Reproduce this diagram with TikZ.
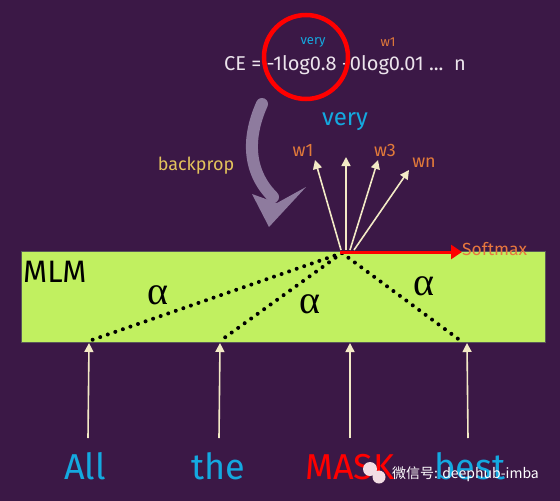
\documentclass[tikz,border=0pt]{standalone}
\usepackage{fontspec}
\setmainfont{Fira Sans}
\newfontfamily\cjk{Noto Sans CJK SC}
\newfontfamily\alphafont{Liberation Serif}
\usetikzlibrary{arrows.meta}
\definecolor{bg}{HTML}{3B1846}
\definecolor{mlmgreen}{HTML}{C1F060}
\definecolor{wordcyan}{HTML}{14A9E0}
\definecolor{worange}{HTML}{E27A3A}
\definecolor{cream}{HTML}{F3EAC6}
\definecolor{bpyellow}{HTML}{E3C35C}
\definecolor{grayarrow}{HTML}{8E7B9E}
\definecolor{formula}{HTML}{ECE4EC}
\definecolor{softorange}{HTML}{E8773E}
\definecolor{wmpink}{HTML}{F2DDE4}
\tikzset{
  fs/.style={font=\fontsize{#1}{#1}\selectfont},
  uparrow/.style={draw=cream, line width=1.6pt, -{Triangle[length=9pt,width=9pt]}},
  attn/.style={draw=black, line width=4pt, line cap=round, dash pattern=on 0pt off 8pt},
  word/.style={fs=36, inner sep=0pt, anchor=base},
  wlabel/.style={fs=18, text=worange, inner sep=0pt},
  alphalabel/.style={font=\alphafont\fontsize{40}{40}\selectfont, inner sep=0pt}
}
\begin{document}
\begin{tikzpicture}[x=1pt,y=-1pt]
\fill[bg] (0,0) rectangle (560,501);
\useasboundingbox (0,0) rectangle (560,501);

% MLM box
\node[draw=gray!70!black, line width=0.6pt, fill=mlmgreen, minimum width=524pt, minimum height=91pt, inner sep=0pt, anchor=north west] (mlm) at (21,251) {};
\node[fs=31, anchor=west, inner sep=0pt] (mlmlabel) at (23,272) {MLM};

% apex and token positions
\coordinate (apex) at (342,253);
\coordinate (tA) at (89,343);
\coordinate (tT) at (220,343);
\coordinate (tM) at (350,343);
\coordinate (tB) at (467,343);
\coordinate (dA) at (89,341);
\coordinate (dT) at (220,341);
\coordinate (dB) at (461,341);
\coordinate (sA) at (88,438);
\coordinate (sT) at (219,438);
\coordinate (sM) at (350,438);
\coordinate (sB) at (468,438);

% attention dotted lines
\draw[attn] (apex) -- (dA);
\draw[attn] (apex) -- (dT);
\draw[attn] (apex) -- (dB);
\node[alphalabel] (al1) at (158,295) {α};
\node[alphalabel] (al2) at (310,304) {α};
\node[alphalabel] (al3) at (424,286) {α};

% softmax arrow
\coordinate (smstart) at (340,252);
\coordinate (smend) at (462,252);
\draw[red, line width=3pt, -{Triangle[length=11pt,width=14pt]}] (smstart) -- (smend);
\node[fs=17.5, text=softorange, anchor=west, inner sep=0pt] (softmax) at (462,249) {Softmax};

% input arrows
\draw[uparrow] (sA) -- (tA);
\draw[uparrow] (sT) -- (tT);
\draw[uparrow] (sM) -- (tM);
\draw[uparrow] (sB) -- (tB);

% words
\node[word, text=wordcyan] (wAll) at (85,479) {All};
\node[word, text=wordcyan] (wThe) at (218,479) {the};
\node[word, text=red] (wMask) at (350,479) {MASK};
\node[word, text=wordcyan] (wBest) at (470,479) {best};

% output arrows
\coordinate (o1) at (341,250);
\coordinate (o2) at (346,250);
\coordinate (o3) at (350,250);
\coordinate (o4) at (354,250);
\coordinate (e1) at (315,160);
\coordinate (e2) at (346,157);
\coordinate (e3) at (378,160);
\coordinate (e4) at (409,170);
\draw[uparrow] (o1) -- (e1);
\draw[uparrow] (o2) -- (e2);
\draw[uparrow] (o3) -- (e3);
\draw[uparrow] (o4) -- (e4);
\node[fs=24, text=wordcyan, inner sep=0pt] (very) at (345,122) {very};
\node[wlabel] (w1) at (303,150) {w1};
\node[wlabel] (w3) at (385,150) {w3};
\node[wlabel] (wn) at (424,163) {wn};

% backprop
\node[fs=18, text=bpyellow, inner sep=0pt] (backprop) at (196,166) {backprop};
\draw[grayarrow, line width=12pt, line cap=round] (262,104) .. controls (248,135) and (246,170) .. (273,197);
\fill[grayarrow] (252,194) -- (269,227) -- (306,187) -- (277,203) -- cycle;

% formula
\node[fs=20, text=formula, inner sep=0pt] (ce) at (345,65) {CE = -1log0.8 -0log0.01 ...\ \ n};
\node[fs=13, text=wordcyan, inner sep=0pt] (smallvery) at (313,42) {very};
\node[fs=13, text=worange, inner sep=0pt] (smallw1) at (388,42) {w1};
\draw[red, line width=4.5pt] (306,57) circle[radius=42pt];

% watermark
\fill[wmpink] (370,469) circle[radius=7pt];
\fill[wmpink] (379,477) circle[radius=6.5pt];
\node[fs=14, text=white, anchor=west, inner sep=0pt] (wm) at (392,474) {\cjk 微信号: deephub-imba};
\end{tikzpicture}
\end{document}
